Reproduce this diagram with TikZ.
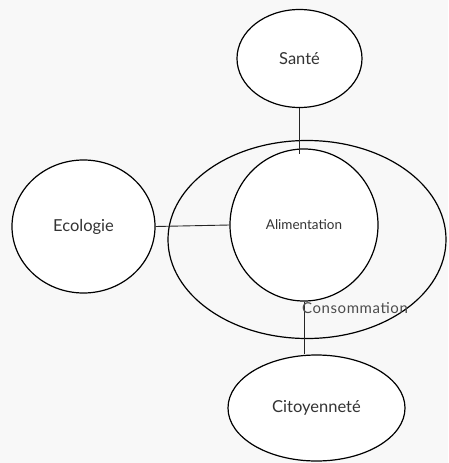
\documentclass[tikz,border=0pt]{standalone}
\usepackage{fontspec}
\setmainfont{Lato}
\usetikzlibrary{shapes.geometric}
\definecolor{bg}{HTML}{F8F8F8}
\definecolor{txt}{HTML}{333333}
\begin{document}
\begin{tikzpicture}[x=1pt,y=-1pt,
  bubble/.style={ellipse,draw=black,line width=1.2pt,fill=white,inner sep=0pt,text=txt,font=\fontsize{16.5}{19}\selectfont},
  link/.style={draw=black!85,line width=0.9pt}]
\fill[bg] (0,0) rectangle (448,463);
\useasboundingbox (0,0) rectangle (448,463);
% outer ellipse
\node[ellipse,draw=black,line width=1.2pt,minimum width=278pt,minimum height=198pt,inner sep=0pt] (cons) at (307,239.5) {};
\node[bubble,minimum width=125pt,minimum height=98pt] (sante) at (299.5,58.5) {Santé};
\node[bubble,minimum width=143pt,minimum height=133pt] (eco) at (83.5,226.5) {Ecologie};
\node[bubble,minimum width=148pt,minimum height=152pt,font=\fontsize{13.5}{16}\selectfont] (alim) at (304,225) {Alimentation};
\node[bubble,minimum width=177pt,minimum height=106pt] (cit) at (316.5,408) {Citoyenneté};
\coordinate (sA) at (299.5,154);
\draw[link] (sante.south) -- (sA);
\draw[link] (eco.east) -- (alim.west);
\draw[link] (alim.south) -- (alim.south |- cit.north);
\node[text=black!70,font=\fontsize{15}{17}\selectfont\addfontfeature{LetterSpace=4},inner sep=0pt] (clab) at (355,308) {Consommation};
\end{tikzpicture}
\end{document}
